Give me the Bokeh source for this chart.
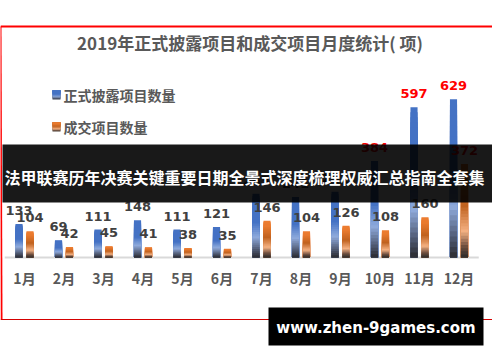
import numpy as np
from bokeh.plotting import figure
from bokeh.models import Range1d
from bokeh.core.properties import value
from bokeh.embed import file_html
from bokeh.resources import INLINE

# ---------------- data ----------------
months = ["1月", "2月", "3月", "4月", "5月", "6月", "7月", "8月", "9月", "10月", "11月", "12月"]
disclosed = [133, 69, 111, 148, 111, 121, 253, 241, 261, 384, 597, 629]
deals = [104, 42, 45, 41, 38, 35, 146, 104, 126, 108, 160, 372]
series_names = ["正式披露项目数量", "成交项目数量"]
title_text = "2019年正式披露项目和成交项目月度统计( 项)"
banner_text = "法甲联赛历年决赛关键重要日期全景式深度梳理权威汇总指南全套集"
watermark_text = "www.zhen-9games.com"

# ---------------- styling ----------------
W, H = 492, 354
FONT = "Noto Sans CJK SC"
BLUE_STOPS = [(0.0, "#2a2a2e"), (0.12, "#4e5870"), (0.32, "#8faadc"), (0.55, "#4472c4"), (1.0, "#4472c4")]
ORANGE_STOPS = [(0.0, "#2a2a2a"), (0.12, "#705040"), (0.28, "#f4b183"), (0.55, "#c0621f"), (0.85, "#e97a2e"), (1.0, "#ed7d31")]


def hex2rgb(h):
    h = h.lstrip("#")
    return np.array([int(h[i:i + 2], 16) for i in (0, 2, 4)], dtype=float)


def grad(stops, f):
    for (f0, c0), (f1, c1) in zip(stops[:-1], stops[1:]):
        if f <= f1:
            t = 0 if f1 == f0 else (f - f0) / (f1 - f0)
            c = hex2rgb(c0) * (1 - t) + hex2rgb(c1) * t
            return "#%02x%02x%02x" % tuple(int(round(v)) for v in c)
    return stops[-1][1]


# pixel-based mapping (frame covers whole canvas)
base_px = 257.0
scale = 0.2515  # px per unit
cat_w = 39.5
c0 = 24.0

p = figure(width=W, height=H, output_backend="svg", toolbar_location=None,
           x_range=Range1d(-c0 / cat_w, (W - c0) / cat_w),
           y_range=Range1d(-(H - base_px) / scale, base_px / scale),
           min_border=0, min_border_left=0, min_border_right=0,
           min_border_top=0, min_border_bottom=0)
p.extra_x_ranges = {"px": Range1d(0, W)}
p.extra_y_ranges = {"px": Range1d(H, 0)}
p.xaxis.visible = False
p.yaxis.visible = False
p.xgrid.visible = False
p.ygrid.visible = False
p.outline_line_color = None
p.background_fill_color = "white"
p.border_fill_color = "white"

# red frame lines
p.segment(x0=[0, 0], x1=[W, 1], y0=[26, 26], y1=[26, 319], line_color="#ff0000", line_width=2,
          x_range_name="px", y_range_name="px")
p.segment(x0=[0], x1=[W], y0=[319], y1=[319], line_color="#d40000", line_width=1,
          x_range_name="px", y_range_name="px")

# title
p.text(x=[249.5], y=[42], text=[title_text], text_font=value(FONT), text_font_style="bold",
       text_font_size="17px", text_color="#595959", text_align="center", text_baseline="middle",
       x_range_name="px", y_range_name="px")

# legend
N_L = 9
for si, (stops, ytop) in enumerate([(BLUE_STOPS, 90), (ORANGE_STOPS, 122)]):
    p.quad(left=[52] * N_L, right=[60] * N_L, top=[ytop] * N_L,
           bottom=[ytop + 9 * (1 - k / N_L) for k in range(N_L)],
           fill_color=[grad(stops, (k + 0.5) / N_L) for k in range(N_L)],
           line_color=None, x_range_name="px", y_range_name="px")
    p.text(x=[63], y=[ytop + 4.5], text=[series_names[si]], text_font=value(FONT),
           text_font_style="bold", text_font_size="14px", text_color="#595959",
           text_align="left", text_baseline="middle", x_range_name="px", y_range_name="px")

# axis line
p.segment(x0=[-0.5], x1=[len(months) - 0.5], y0=[0], y1=[0], line_color="#d9d9d9", line_width=2)

# gradient bars
N = 30
xs = np.arange(len(months))
for vals, off, stops in [(disclosed, -0.139, BLUE_STOPS), (deals, 0.139, ORANGE_STOPS)]:
    bx, btop, bcol = [], [], []
    for k in range(N - 1, -1, -1):
        for i, v in enumerate(vals):
            bx.append(xs[i] + off)
            btop.append(v * (k + 1) / N)
            bcol.append(grad(stops, (k + 0.5) / N))
    p.vbar(x=bx, top=btop, bottom=0, width=0.18, fill_color=bcol, line_color=None)

# value labels
lab_x, lab_y, lab_t, lab_c = [], [], [], []
for vals, off in [(disclosed, -0.139), (deals, 0.139)]:
    for i, v in enumerate(vals):
        lab_x.append(xs[i] + off)
        lab_y.append(v)
        lab_t.append(str(v))
        lab_c.append("#ff0000" if v > 300 else "#404040")
p.text(x=lab_x, y=lab_y, text=lab_t, text_color=lab_c, text_font=value("DejaVu Sans"),
       text_font_style="bold", text_font_size="13px", text_align="center",
       text_baseline="bottom", y_offset=-9)

# month labels
p.text(x=xs, y=[277] * len(months), text=months, text_font=value(FONT), text_font_style="bold",
       text_font_size="14px", text_color="#595959", text_align="center", text_baseline="middle",
       y_range_name="px")

# banner overlay
p.quad(left=[2], right=[W], top=[144], bottom=[202], fill_color="black", fill_alpha=0.9,
       line_color=None, x_range_name="px", y_range_name="px")
p.text(x=[4], y=[176], text=[banner_text], text_font=value(FONT), text_font_style="bold",
       text_font_size="16px", text_color="white", text_align="left", text_baseline="middle",
       x_range_name="px", y_range_name="px")

# watermark box
p.quad(left=[268], right=[483], top=[307], bottom=[345], fill_color="black", line_color=None,
       x_range_name="px", y_range_name="px")
p.text(x=[375.5], y=[327], text=[watermark_text], text_font=value("DejaVu Sans"),
       text_font_style="bold", text_font_size="15px", text_color="white", text_align="center",
       text_baseline="middle", x_range_name="px", y_range_name="px")

open("out.html", "w").write(file_html(p, INLINE))
